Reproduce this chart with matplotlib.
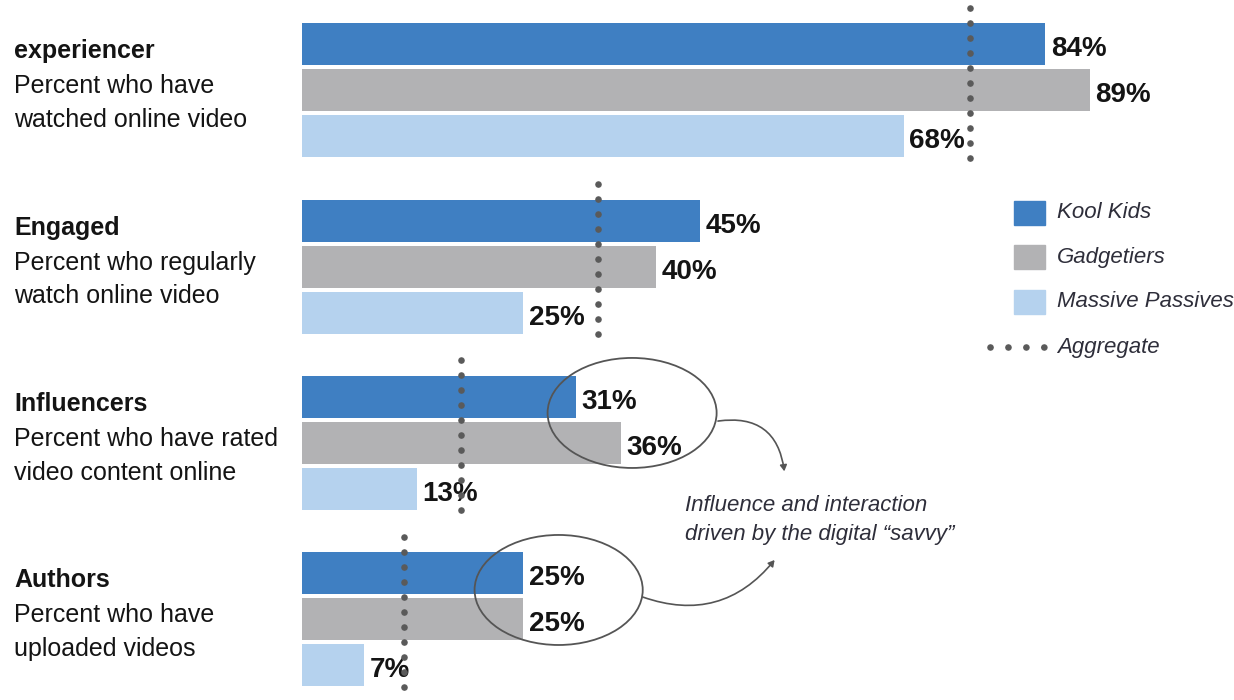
import matplotlib.pyplot as plt
from matplotlib.patches import Ellipse, Rectangle

plt.rcParams['font.family'] = ['Liberation Sans', 'DejaVu Sans']

segments = ['experiencer', 'Engaged', 'Influencers', 'Authors']
descriptions = [('Percent who have', 'watched online video'),
                ('Percent who regularly', 'watch online video'),
                ('Percent who have rated', 'video content online'),
                ('Percent who have', 'uploaded videos')]
series = ['Kool Kids', 'Gadgetiers', 'Massive Passives']
kool_kids = [84, 45, 31, 25]
gadgetiers = [89, 40, 36, 25]
massive_passives = [68, 25, 13, 7]
aggregate = [75.5, 33.5, 18, 11.5]

colors = ['#3f7fc2', '#b2b2b4', '#b5d2ee']
dot_color = '#5a5a5a'
text_color = '#141414'

fig = plt.figure(figsize=(12.34, 7), dpi=100)
ax = fig.add_axes([0, 0, 1, 1])
ax.axis('off')
# 8.85 px per percent, bars start 302 px from the left edge
ax.set_xlim(-302 / 8.85, 932 / 8.85)
ax.set_ylim(3.457, -0.513)

bar_h = 0.238
step = 0.261
for k, vals in enumerate([kool_kids, gadgetiers, massive_passives]):
    ys = [g + (k - 1) * step for g in range(len(segments))]
    ax.barh(ys, vals, height=bar_h, color=colors[k], zorder=2)
    for y, v in zip(ys, vals):
        ax.text(v + 0.6, y + 0.028, f'{v}%', ha='left', va='center', fontsize=20,
                fontweight='bold', color=text_color, zorder=3)

# aggregate markers drawn as dotted vertical lines over each group
dotted = dict(color=dot_color, lw=4.8, dash_capstyle='round', zorder=4)
for g, a in enumerate(aggregate):
    ax.plot([a, a], [g - 0.47, g + 0.41], linestyle=(0, (0.01, 2.24)), **dotted)

# segment names and descriptions on the left
for g, (name, (l1, l2)) in enumerate(zip(segments, descriptions)):
    ax.text(-32.5, g - 0.222, name, ha='left', va='center', fontsize=18,
            fontweight='bold', color=text_color)
    ax.text(-32.5, g - 0.023, l1, ha='left', va='center', fontsize=18, color=text_color)
    ax.text(-32.5, g + 0.167, l2, ha='left', va='center', fontsize=18, color=text_color)

# legend
for k, name in enumerate(series):
    yk = 0.695 + k * 0.252
    ax.add_patch(Rectangle((80.45, yk - 0.068), 3.5, 0.136, color=colors[k]))
    ax.text(85.3, yk, name, ha='left', va='center', fontsize=16,
            style='italic', color='#2e2e3a')
ax.plot([77.7, 84.0], [1.455, 1.455], linestyle=(0, (0.01, 2.68)), **dotted)
ax.text(85.3, 1.455, 'Aggregate', ha='left', va='center', fontsize=16,
        style='italic', color='#2e2e3a')

# callout circles around the digital "savvy" segments
ax.add_patch(Ellipse((37.3, 1.829), 19.1, 0.624, fill=False, ec='#555555', lw=1.3, zorder=5))
ax.add_patch(Ellipse((29.0, 2.833), 19.0, 0.624, fill=False, ec='#555555', lw=1.3, zorder=5))

arrow = dict(arrowstyle='-|>,head_length=0.35,head_width=0.2', color='#555555', lw=1.2,
             shrinkA=0, shrinkB=0)
ax.annotate('', xy=(54.5, 2.16), xytext=(47.0, 1.875),
            arrowprops=dict(arrow, connectionstyle='arc3,rad=-0.5'))
ax.annotate('', xy=(53.4, 2.663), xytext=(38.5, 2.873),
            arrowprops=dict(arrow, connectionstyle='arc3,rad=0.35'))

ax.text(43.3, 2.436, 'Influence and interaction\ndriven by the digital \u201csavvy\u201d',
        ha='left', va='center', fontsize=16, style='italic', color='#2e2e3a',
        linespacing=1.55)

fig.savefig('out.png', dpi=100)
